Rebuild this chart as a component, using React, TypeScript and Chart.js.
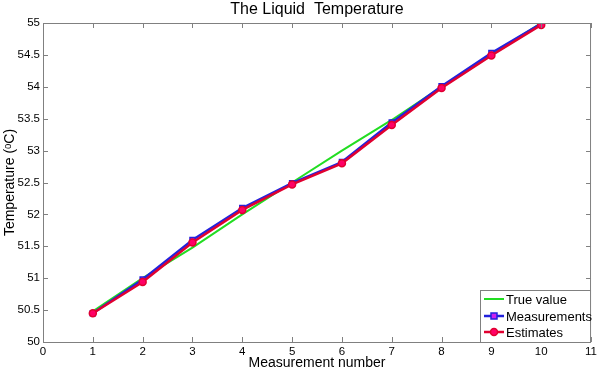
import React, { useEffect, useRef } from "react";
import { Chart, registerables } from "chart.js";
Chart.register(...registerables);

const steps = [1, 2, 3, 4, 5, 6, 7, 8, 9, 10];
const trueValues = [50.48, 51.0, 51.48, 52.0, 52.5, 53.0, 53.48, 54.0, 54.5, 55.0];
const measurements = [50.45, 50.98, 51.6, 52.1, 52.49, 52.82, 53.44, 54.01, 54.53, 54.99];
const estimates = [50.45, 50.94, 51.56, 52.07, 52.47, 52.8, 53.4, 53.98, 54.49, 54.97];
const yTicks = ["50", "50.5", "51", "51.5", "52", "52.5", "53", "53.5", "54", "54.5", "55"];

const FONT = "'Liberation Sans', Arial, sans-serif";

const frame = {
  id: "frame",
  afterDatasetsDraw(chart: any) {
    const { ctx, chartArea: a, scales } = chart;
    ctx.save();
    ctx.strokeStyle = "#808080";
    ctx.lineWidth = 1;
    ctx.strokeRect(a.left + 0.5, a.top + 0.5, a.right - a.left - 1, a.bottom - a.top);
    const tl = 5;
    ctx.beginPath();
    for (let v = 0; v <= 11; v++) {
      const x = Math.round(scales.x.getPixelForValue(v)) + 0.5;
      ctx.moveTo(x, a.bottom); ctx.lineTo(x, a.bottom - tl);
      ctx.moveTo(x, a.top); ctx.lineTo(x, a.top + tl);
    }
    for (let i = 0; i < yTicks.length; i++) {
      const y = Math.round(scales.y.getPixelForValue(parseFloat(yTicks[i]))) + 0.5;
      ctx.moveTo(a.left, y); ctx.lineTo(a.left + tl, y);
      ctx.moveTo(a.right, y); ctx.lineTo(a.right - tl, y);
    }
    ctx.stroke();
    ctx.restore();
  },
  afterDraw(chart: any) {
    const { ctx, chartArea: a } = chart;
    ctx.save();
    ctx.fillStyle = "#000";
    ctx.font = `16px ${FONT}`;
    ctx.textAlign = "center";
    ctx.textBaseline = "middle";
    ctx.fillText("The Liquid  Temperature", (a.left + a.right) / 2, 10);
    const bx = 480, by = 290, bw = a.right - 480, bh = a.bottom - 290;
    ctx.fillStyle = "#fff";
    ctx.fillRect(bx, by, bw, bh);
    ctx.strokeStyle = "#808080";
    ctx.lineWidth = 1;
    ctx.strokeRect(bx + 0.5, by + 0.5, bw - 1, bh);
    const ds = chart.data.datasets;
    const rows = [299, 316, 332];
    ctx.font = `13px ${FONT}`;
    ctx.textAlign = "left";
    ds.forEach((d: any, i: number) => {
      const y = rows[i];
      ctx.strokeStyle = d.borderColor;
      ctx.lineWidth = d.borderWidth;
      ctx.beginPath();
      ctx.moveTo(484, y); ctx.lineTo(504, y);
      ctx.stroke();
      if (d.pointRadius > 0) {
        ctx.fillStyle = d.pointBackgroundColor;
        ctx.strokeStyle = d.pointBorderColor;
        ctx.lineWidth = 1.5;
        ctx.beginPath();
        if (d.pointStyle === "rect") ctx.rect(494 - 3, y - 3, 6, 6);
        else ctx.arc(494, y, 3.5, 0, Math.PI * 2);
        ctx.fill(); ctx.stroke();
      }
      ctx.fillStyle = "#000";
      ctx.fillText(d.label, 506, y + 1);
    });
    ctx.restore();
  },
};

export default function App() {
  const ref = useRef<HTMLCanvasElement>(null);
  useEffect(() => {
    document.body.style.margin = "0";
    const toPts = (arr: number[]) => steps.map((s, i) => ({ x: s, y: arr[i] }));
    const chart = new Chart(ref.current!, {
      type: "line",
      data: {
        datasets: [
          {
            label: "True value",
            data: toPts(trueValues),
            borderColor: "#22dd22",
            borderWidth: 2,
            pointRadius: 0,
            pointBackgroundColor: "#22dd22",
            pointBorderColor: "#22dd22",
            order: 3,
          },
          {
            label: "Measurements",
            data: toPts(measurements),
            borderColor: "#2222dd",
            borderWidth: 2.5,
            pointStyle: "rect",
            pointRadius: 3.5,
            pointBackgroundColor: "#cc22ee",
            pointBorderColor: "#2222dd",
            pointBorderWidth: 1.5,
            order: 2,
          },
          {
            label: "Estimates",
            data: toPts(estimates),
            borderColor: "#e00030",
            borderWidth: 2.5,
            pointStyle: "circle",
            pointRadius: 3.5,
            pointBackgroundColor: "#ff0066",
            pointBorderColor: "#e00030",
            pointBorderWidth: 1.5,
            order: 1,
          },
        ] as any,
      },
      options: {
        animation: false,
        responsive: false,
        devicePixelRatio: 1,
        layout: { padding: { top: 23, right: 8, left: 0, bottom: 0 } },
        plugins: { legend: { display: false }, tooltip: { enabled: false }, title: { display: false } },
        scales: {
          x: {
            type: "linear",
            min: 0,
            max: 11,
            grid: { display: false, drawTicks: false },
            border: { display: false },
            ticks: { stepSize: 1, color: "#000", font: { family: FONT, size: 11.5 }, padding: 3, maxRotation: 0, autoSkip: false },
            title: { display: true, text: "Measurement number", color: "#000", font: { family: FONT, size: 14 }, padding: { top: 0, bottom: 0 } },
            afterFit: (s: any) => { s.height = 30; },
          },
          y: {
            type: "linear",
            min: 50,
            max: 55,
            grid: { display: false, drawTicks: false },
            border: { display: false },
            ticks: {
              stepSize: 0.5,
              color: "#000",
              font: { family: FONT, size: 11.5 },
              padding: 3,
              autoSkip: false,
              callback: (v: any) => yTicks.find((t) => Math.abs(parseFloat(t) - v) < 1e-6) ?? "",
            },
            title: { display: true, text: "Temperature (ᵒC)", color: "#000", font: { family: FONT, size: 14 }, padding: { top: 2, bottom: 0 } },
            afterFit: (s: any) => { s.width = 43; },
          },
        },
      } as any,
      plugins: [frame],
    });
    return () => chart.destroy();
  }, []);
  return (
    <div style={{ position: "fixed", left: 0, top: 0, width: 600, height: 372, background: "#fff" }}>
      <canvas ref={ref} width={600} height={372} style={{ display: "block", width: 600, height: 372 }} />
    </div>
  );
}
